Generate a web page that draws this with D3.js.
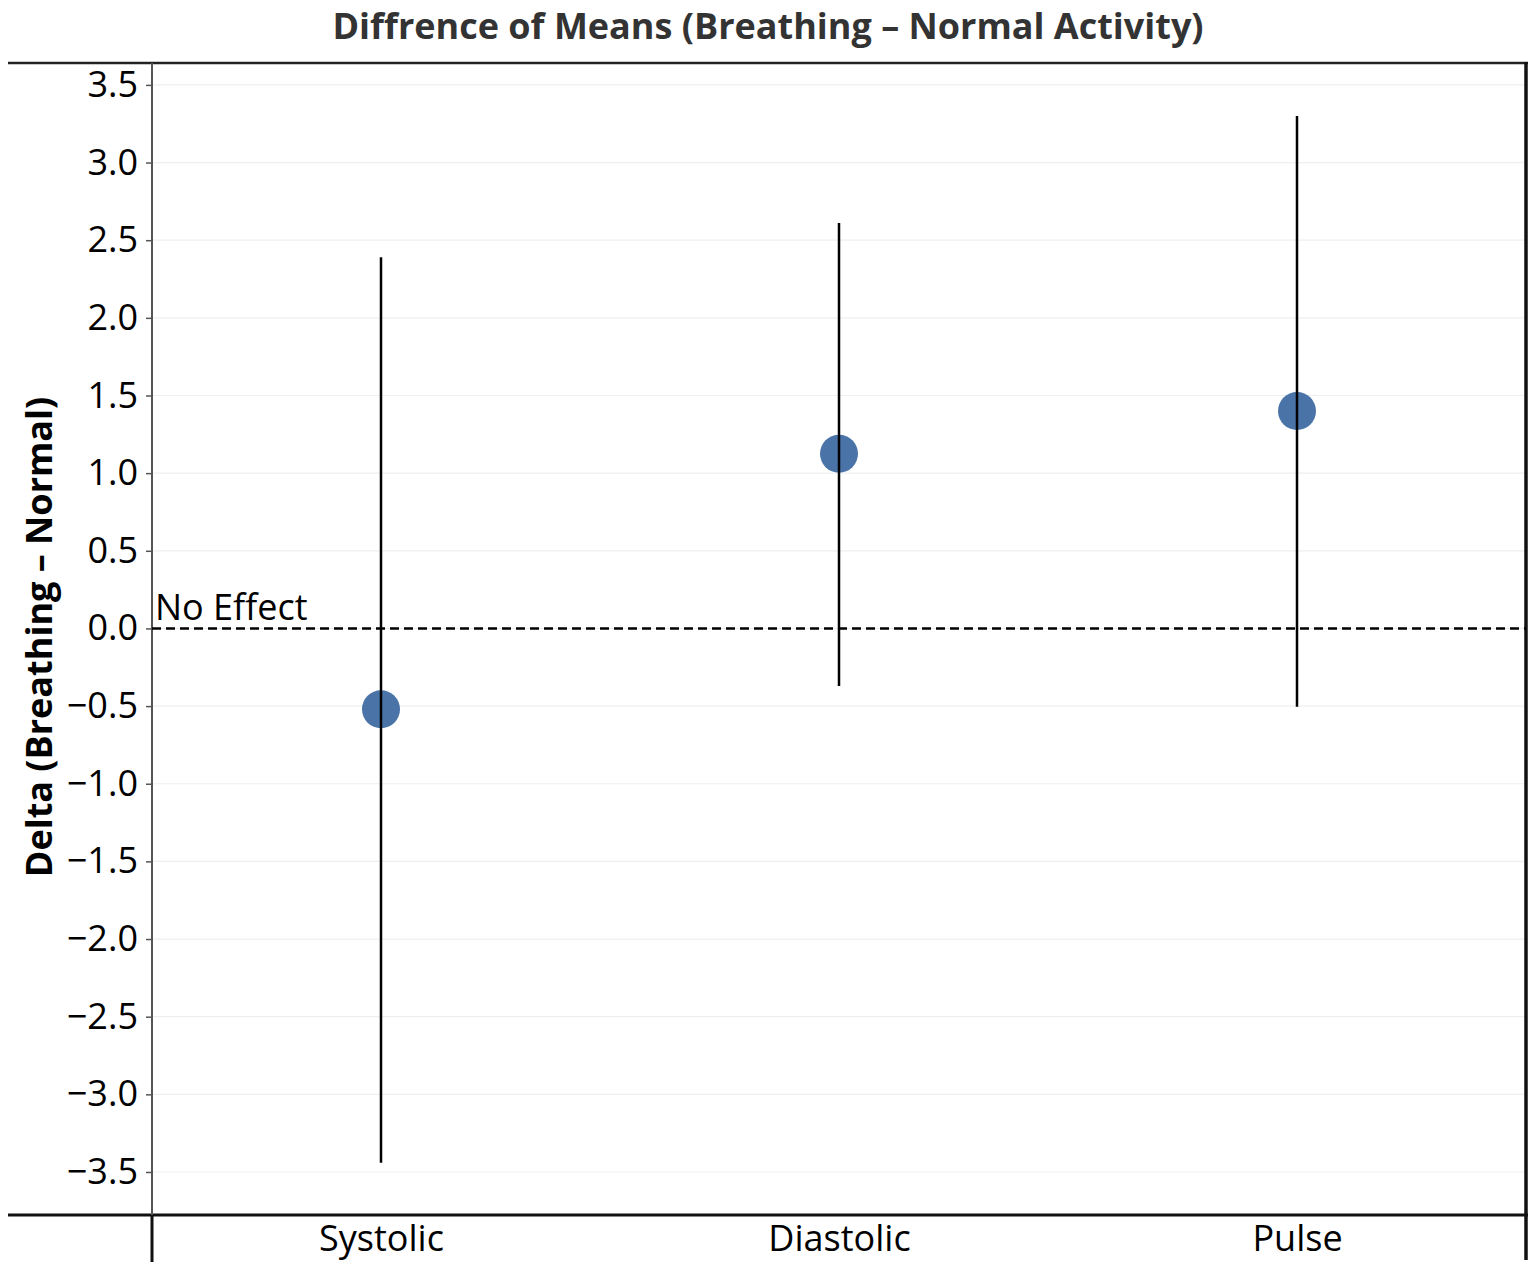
<!DOCTYPE html>
<html><head><meta charset="utf-8">
<script src="https://cdn.jsdelivr.net/npm/d3@7"></script>
<style>body{margin:0;background:#fff;} svg{display:block;}</style>
</head><body>
<script>
const categories = ["Systolic", "Diastolic", "Pulse"];
const means = [-0.52, 1.125, 1.40];
const lower = [-3.44, -0.37, -0.505];
const upper = [2.39, 2.61, 3.30];
const yTicks = [-3.5, -3.0, -2.5, -2.0, -1.5, -1.0, -0.5, 0.0, 0.5, 1.0, 1.5, 2.0, 2.5, 3.0, 3.5];
const titleText = "Diffrence of Means (Breathing \u2013 Normal Activity)";
const yLabelText = "Delta (Breathing \u2013 Normal)";
const refLabel = "No Effect";

(function () {
const W = 1536, H = 1276;
const font = "'Open Sans', 'DejaVu Sans', sans-serif";
const svg = d3.select("body").append("svg").attr("width", W).attr("height", H);

const pL = 152, pR = 1526, pT = 63, pB = 1215;
const x = d3.scalePoint().domain(categories).range([pL, pR]).padding(0.5);
const y = d3.scaleLinear().domain([-3.777, 3.641]).range([pB, pT]);

// gridlines
svg.append("g").selectAll("line").data(yTicks).join("line")
  .attr("x1", pL).attr("x2", pR)
  .attr("y1", d => y(d)).attr("y2", d => y(d))
  .attr("stroke", "#efefef").attr("stroke-width", 1.2);

// frame
svg.append("line").attr("x1", 8).attr("x2", 1528).attr("y1", pT).attr("y2", pT)
  .attr("stroke", "#222").attr("stroke-width", 2.5);
svg.append("line").attr("x1", pR).attr("x2", pR).attr("y1", pT - 1).attr("y2", 1260)
  .attr("stroke", "#111").attr("stroke-width", 3.5);
svg.append("line").attr("x1", 8).attr("x2", 1528).attr("y1", pB).attr("y2", pB)
  .attr("stroke", "#111").attr("stroke-width", 3);
svg.append("line").attr("x1", pL).attr("x2", pL).attr("y1", pB).attr("y2", 1262)
  .attr("stroke", "#111").attr("stroke-width", 3);

// y axis
const yAxis = svg.append("g").attr("transform", `translate(${pL},0)`)
  .call(d3.axisLeft(y).tickValues(yTicks).tickSize(6).tickPadding(8)
    .tickFormat(d => d3.format(".1f")(d).replace("-", "\u2212")));
yAxis.select(".domain").remove();
yAxis.append("line").attr("x1", 0).attr("x2", 0).attr("y1", pT).attr("y2", pB)
  .attr("stroke", "#555").attr("stroke-width", 2);
yAxis.selectAll(".tick line").attr("stroke", "#555").attr("stroke-width", 1.5);
yAxis.selectAll(".tick text").attr("font-family", font).attr("font-size", 36)
  .attr("fill", "#000");

// x axis labels
const xAxis = svg.append("g").attr("transform", `translate(0,${pB})`)
  .call(d3.axisBottom(x).tickSize(0).tickPadding(10));
xAxis.select(".domain").remove();
xAxis.selectAll(".tick text").attr("font-family", font).attr("font-size", 36)
  .attr("fill", "#000");

// reference line
svg.append("line").attr("x1", pL).attr("x2", pR).attr("y1", y(0)).attr("y2", y(0))
  .attr("stroke", "#000").attr("stroke-width", 2.5).attr("stroke-dasharray", "9,5");
svg.append("text").attr("x", 155).attr("y", y(0) - 8).text(refLabel)
  .attr("font-family", font).attr("font-size", 36).attr("fill", "#000");

// points
const data = categories.map((c, i) => ({c, m: means[i], lo: lower[i], hi: upper[i]}));
svg.append("g").selectAll("circle").data(data).join("circle")
  .attr("cx", d => x(d.c)).attr("cy", d => y(d.m)).attr("r", 19)
  .attr("fill", "#4a74a8");
svg.append("g").selectAll("line").data(data).join("line")
  .attr("x1", d => x(d.c)).attr("x2", d => x(d.c))
  .attr("y1", d => y(d.lo)).attr("y2", d => y(d.hi))
  .attr("stroke", "#000").attr("stroke-width", 2.5);

// title
svg.append("text").attr("x", 768).attr("y", 39).attr("text-anchor", "middle")
  .attr("font-family", font).attr("font-weight", "bold").attr("font-size", 36)
  .attr("fill", "#333").text(titleText);

// y label
svg.append("text").attr("transform", `translate(52,637) rotate(-90)`)
  .attr("text-anchor", "middle").attr("font-family", font).attr("font-weight", "bold")
  .attr("font-size", 36).attr("fill", "#000").text(yLabelText);
})();
</script>
</body></html>
